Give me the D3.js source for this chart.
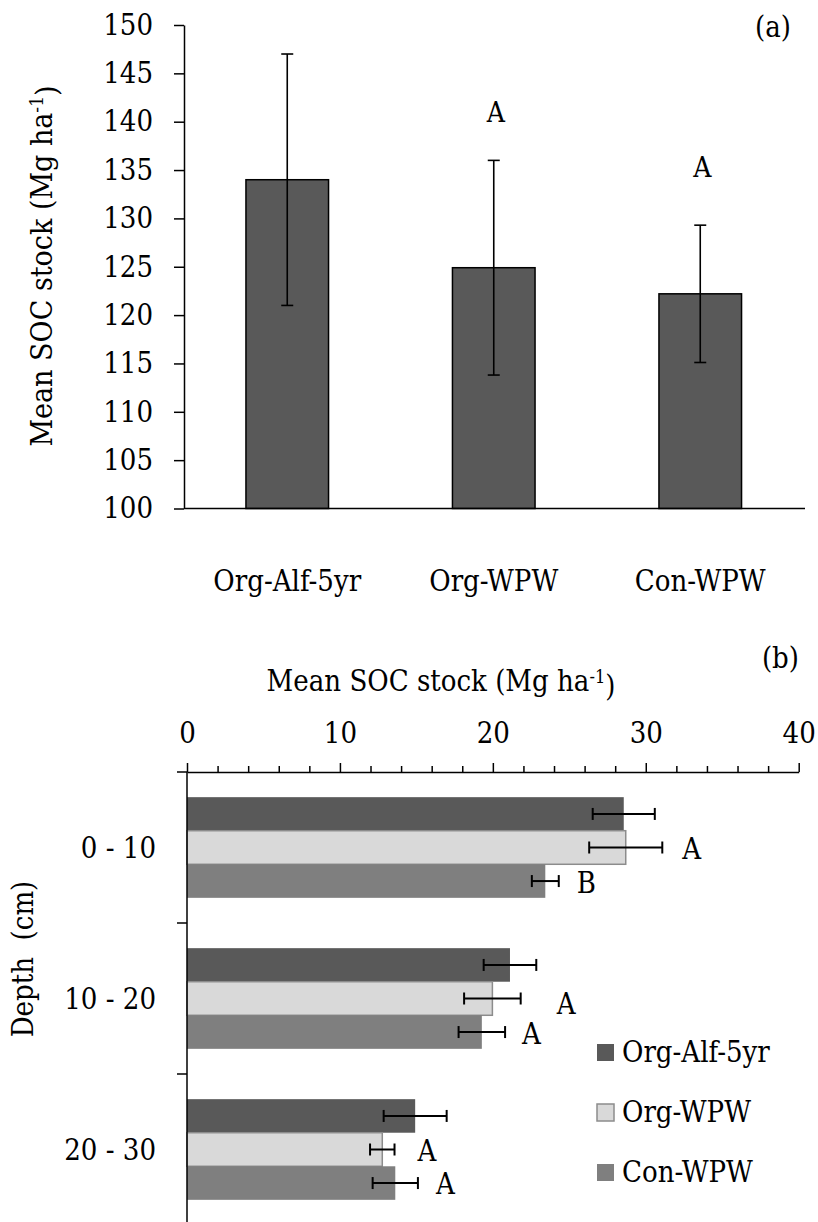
<!DOCTYPE html>
<html>
<head>
<meta charset="utf-8">
<script src="https://cdn.jsdelivr.net/npm/d3@7"></script>
<style>
  html, body { margin: 0; padding: 0; background: #fff; }
  svg { display: block; }
  text { font-family: "DejaVu Serif Condensed", "DejaVu Serif", serif; font-stretch: condensed; fill: #000; }
</style>
</head>
<body>
<svg id="chart" width="818" height="1222"></svg>
<script>
// ---- Panel (a): whole-profile SOC stock by treatment ----
const treatments = ["Org-Alf-5yr", "Org-WPW", "Con-WPW"];
const totalMean = [134.0, 124.9, 122.2];
const totalErr = [13.0, 11.1, 7.1];
const totalLetters = ["", "A", "A"];
const totalTicks = [100, 105, 110, 115, 120, 125, 130, 135, 140, 145, 150];

// ---- Panel (b): SOC stock by depth increment ----
const depths = ["0 - 10", "10 - 20", "20 - 30"];
const depthMeanOrgAlf = [28.56, 21.12, 14.92];
const depthMeanOrgWPW = [28.69, 19.97, 12.77];
const depthMeanConWPW = [23.43, 19.28, 13.62];
const depthErrOrgAlf = [2.03, 1.72, 2.06];
const depthErrOrgWPW = [2.39, 1.85, 0.80];
const depthErrConWPW = [0.88, 1.52, 1.48];
const depthLettersOrgAlf = ["", "", ""];
const depthLettersOrgWPW = ["A", "A", "A"];
const depthLettersConWPW = ["B", "A", "A"];
const depthMajorTicks = [0, 10, 20, 30, 40];
const depthMinorTicks = [2, 4, 6, 8, 12, 14, 16, 18, 22, 24, 26, 28, 32, 34, 36, 38];

const seriesColors = ["#595959", "#d9d9d9", "#7f7f7f"];
const seriesStroke = ["none", "#8c8c8c", "none"];

const svg = d3.select("#chart");
const FONT = 29;

// =================== Panel (a) ===================
const gA = svg.append("g");
const xA = d3.scaleBand().domain(treatments).range([184, 803.5])
  .paddingInner(0.6).paddingOuter(0.3);
const yA = d3.scaleLinear().domain([100, 150]).range([508.5, 25]);

// bars
gA.selectAll("rect.bar").data(treatments).join("rect")
  .attr("class", "bar")
  .attr("x", d => xA(d))
  .attr("width", xA.bandwidth())
  .attr("y", (d, i) => yA(totalMean[i]))
  .attr("height", (d, i) => yA(100) - yA(totalMean[i]))
  .attr("fill", "#595959")
  .attr("stroke", "#000")
  .attr("stroke-width", 1.5);

// error bars
const capA = 6;
treatments.forEach((t, i) => {
  const cx = xA(t) + xA.bandwidth() / 2;
  const hi = yA(totalMean[i] + totalErr[i]);
  const lo = yA(totalMean[i] - totalErr[i]);
  const eg = gA.append("g").attr("stroke", "#000").attr("stroke-width", 1.6);
  eg.append("line").attr("x1", cx).attr("x2", cx).attr("y1", hi).attr("y2", lo);
  eg.append("line").attr("x1", cx - capA).attr("x2", cx + capA).attr("y1", hi).attr("y2", hi);
  eg.append("line").attr("x1", cx - capA).attr("x2", cx + capA).attr("y1", lo).attr("y2", lo);
});

// significance letters above the error bars
const letterGapA = [38, 38, 48];
gA.selectAll("text.letter").data(treatments).join("text")
  .attr("class", "letter")
  .attr("x", d => xA(d) + xA.bandwidth() / 2 + 2)
  .attr("y", (d, i) => yA(totalMean[i] + totalErr[i]) - letterGapA[i])
  .attr("text-anchor", "middle")
  .attr("font-size", 28)
  .text((d, i) => totalLetters[i]);

// y axis
const axA = gA.append("g").attr("transform", "translate(184,0)")
  .call(d3.axisLeft(yA).tickValues(totalTicks).tickSize(10).tickSizeOuter(0).tickPadding(21));
axA.selectAll("path, line").attr("stroke", "#000").attr("stroke-width", 1.5);
axA.selectAll("text").attr("font-size", FONT);

// x axis baseline
gA.append("line").attr("x1", 184).attr("x2", 805).attr("y1", yA(100)).attr("y2", yA(100))
  .attr("stroke", "#000").attr("stroke-width", 1.5);

// category labels
gA.selectAll("text.cat").data(treatments).join("text")
  .attr("class", "cat")
  .attr("x", d => xA(d) + xA.bandwidth() / 2)
  .attr("y", 591)
  .attr("text-anchor", "middle")
  .attr("font-size", FONT)
  .text(d => d);

// y axis title
const titleA = gA.append("text")
  .attr("transform", "translate(52,266) rotate(-90)")
  .attr("text-anchor", "middle")
  .attr("font-size", 30);
titleA.append("tspan").text("Mean SOC stock (Mg ha");
titleA.append("tspan").attr("dy", "-0.45em").attr("font-size", 19).text("-1");
titleA.append("tspan").attr("dy", "0.45em").text(")");

gA.append("text").attr("x", 791).attr("y", 37).attr("text-anchor", "end")
  .attr("font-size", FONT).text("(a)");

// =================== Panel (b) ===================
const gB = svg.append("g");
const xB = d3.scaleLinear().domain([0, 40]).range([187, 798.7]);
const yB = d3.scaleBand().domain(depths).range([772, 1225])
  .paddingInner(1 / 3).paddingOuter(1 / 6);
const yInner = d3.scaleBand().domain(treatments).range([0, yB.bandwidth()]);

const seriesMean = [depthMeanOrgAlf, depthMeanOrgWPW, depthMeanConWPW];
const seriesErr = [depthErrOrgAlf, depthErrOrgWPW, depthErrConWPW];
const seriesLetters = [depthLettersOrgAlf, depthLettersOrgWPW, depthLettersConWPW];

const rows = [];
depths.forEach((dep, di) => {
  treatments.forEach((t, si) => {
    rows.push({ dep, di, t, si, v: seriesMean[si][di], e: seriesErr[si][di], l: seriesLetters[si][di] });
  });
});

gB.selectAll("rect.hbar").data(rows).join("rect")
  .attr("class", "hbar")
  .attr("x", xB(0))
  .attr("y", d => yB(d.dep) + yInner(d.t))
  .attr("width", d => xB(d.v) - xB(0))
  .attr("height", yInner.bandwidth())
  .attr("fill", d => seriesColors[d.si])
  .attr("stroke", d => seriesStroke[d.si])
  .attr("stroke-width", 1.5);

// horizontal error bars
const capB = 6;
rows.forEach(d => {
  const cy = yB(d.dep) + yInner(d.t) + yInner.bandwidth() / 2;
  const lo = xB(d.v - d.e), hi = xB(d.v + d.e);
  const eg = gB.append("g").attr("stroke", "#000").attr("stroke-width", 2);
  eg.append("line").attr("x1", lo).attr("x2", hi).attr("y1", cy).attr("y2", cy);
  eg.append("line").attr("x1", lo).attr("x2", lo).attr("y1", cy - capB).attr("y2", cy + capB);
  eg.append("line").attr("x1", hi).attr("x2", hi).attr("y1", cy - capB).attr("y2", cy + capB);
});

// letters beside the error bars: [dx from bar end, dy from bar centre]
const letterShiftB = {
  "0-1": [20, 11], "0-2": [18, 11.5],
  "1-1": [36, 15], "1-2": [17, 11.5],
  "2-1": [23, 11], "2-2": [18, 11]
};
rows.filter(d => d.l).forEach(d => {
  const s = letterShiftB[d.di + "-" + d.si] || [18, 11];
  const cy = yB(d.dep) + yInner(d.t) + yInner.bandwidth() / 2;
  gB.append("text")
    .attr("x", xB(d.v + d.e) + s[0])
    .attr("y", cy + s[1])
    .attr("font-size", FONT)
    .text(d.l);
});

// top value axis with major and minor ticks
const axB = gB.append("g").attr("transform", "translate(0,772)")
  .call(d3.axisTop(xB).tickValues(depthMajorTicks).tickSize(9).tickSizeOuter(0).tickPadding(20));
axB.selectAll("path, line").attr("stroke", "#000").attr("stroke-width", 1.5);
axB.selectAll("text").attr("font-size", FONT);
const axBm = gB.append("g").attr("transform", "translate(0,772)")
  .call(d3.axisTop(xB).tickValues(depthMinorTicks).tickSize(6).tickSizeOuter(0).tickFormat(""));
axBm.select("path").remove();
axBm.selectAll("line").attr("stroke", "#000").attr("stroke-width", 1.5);

// category axis on the left with ticks between depth groups
const bounds = [772].concat(depths.map(d => yB(d) + yB.bandwidth() + yB.step() * yB.paddingInner() / 2));
gB.append("line").attr("x1", 187).attr("x2", 187).attr("y1", 772).attr("y2", 1225)
  .attr("stroke", "#000").attr("stroke-width", 1.5);
gB.selectAll("line.bt").data(bounds).join("line")
  .attr("class", "bt")
  .attr("x1", 177).attr("x2", 187).attr("y1", d => d).attr("y2", d => d)
  .attr("stroke", "#000").attr("stroke-width", 1.5);

gB.selectAll("text.dep").data(depths).join("text")
  .attr("class", "dep")
  .attr("x", 156)
  .attr("y", d => yB(d) + yB.bandwidth() / 2)
  .attr("dy", "0.36em")
  .attr("text-anchor", "end")
  .attr("font-size", FONT)
  .text(d => d);

// axis titles
const titleB = gB.append("text")
  .attr("x", 441).attr("y", 691)
  .attr("text-anchor", "middle")
  .attr("font-size", FONT);
titleB.append("tspan").text("Mean SOC stock (Mg ha");
titleB.append("tspan").attr("dy", "-0.45em").attr("font-size", 18).text("-1");
titleB.append("tspan").attr("dy", "0.45em").text(")");

gB.append("text")
  .attr("transform", "translate(33,959) rotate(-90)")
  .attr("text-anchor", "middle")
  .attr("font-size", FONT)
  .attr("xml:space", "preserve")
  .style("white-space", "pre")
  .text("Depth  (cm)");

gB.append("text").attr("x", 799).attr("y", 668).attr("text-anchor", "end")
  .attr("font-size", FONT).text("(b)");

// legend
const legend = gB.append("g");
treatments.forEach((t, i) => {
  const base = 1062 + i * 60;
  legend.append("rect")
    .attr("x", 597).attr("y", base - 18).attr("width", 17).attr("height", 17)
    .attr("fill", seriesColors[i])
    .attr("stroke", seriesStroke[i]).attr("stroke-width", 1.5);
  legend.append("text").attr("x", 622).attr("y", base).attr("font-size", FONT).text(t);
});
</script>
</body>
</html>
